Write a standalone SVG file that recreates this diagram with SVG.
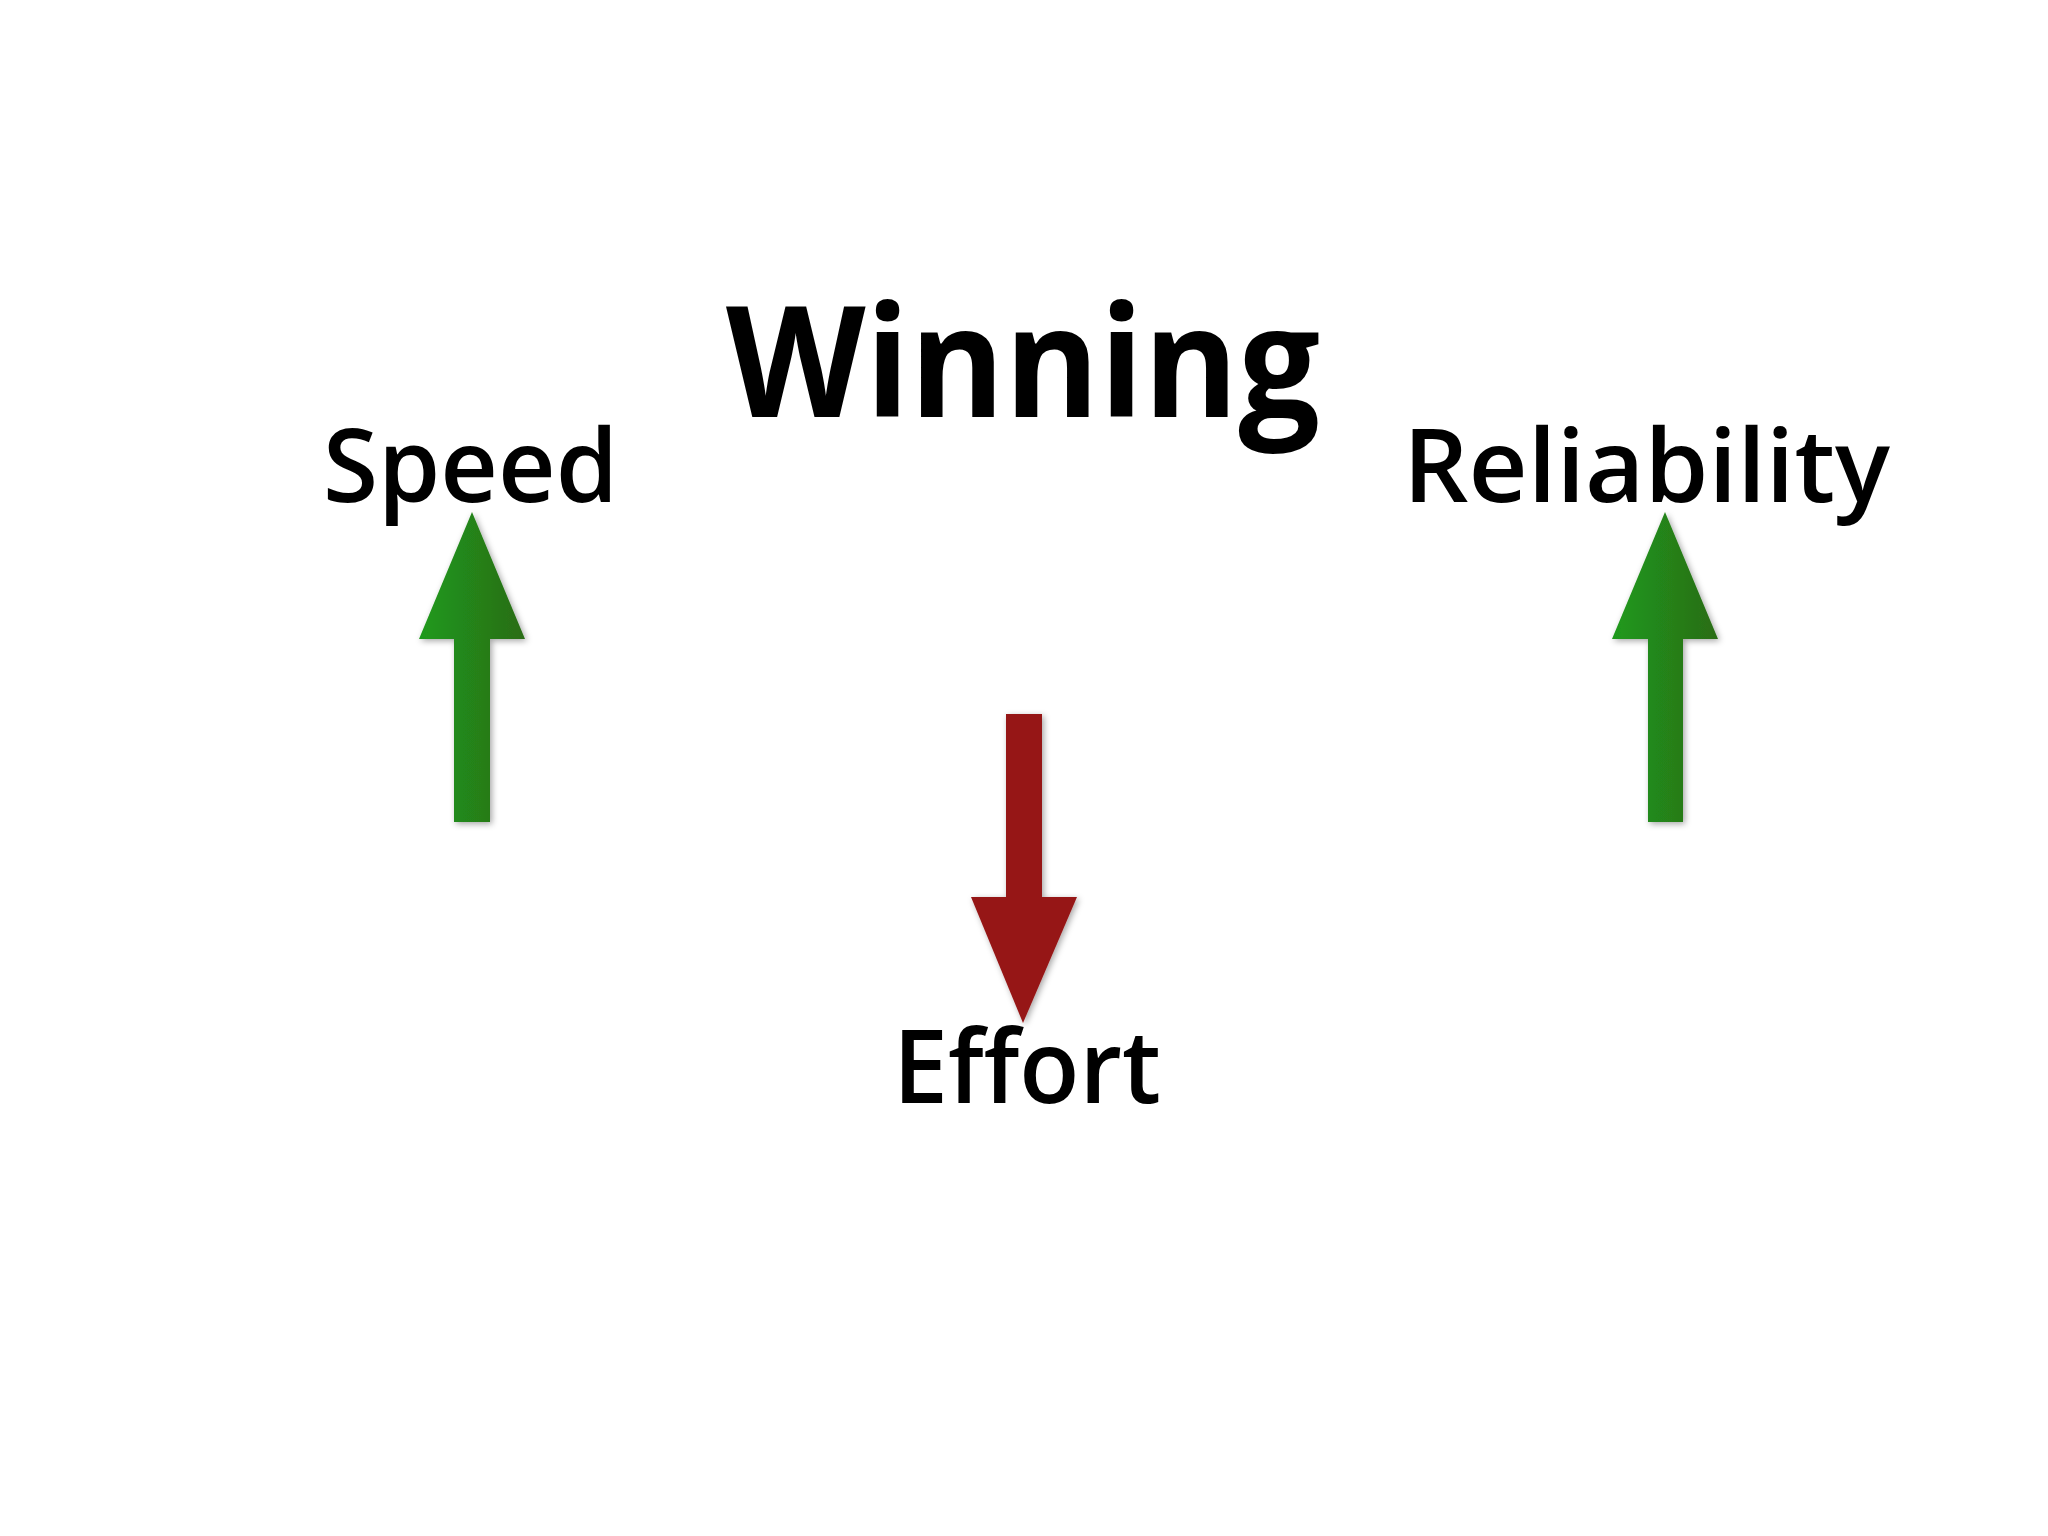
<svg xmlns="http://www.w3.org/2000/svg" width="2048" height="1536" viewBox="0 0 2048 1536">
<style>
.lbl{font-family:"Open Sans","Noto Sans","Liberation Sans",sans-serif;font-weight:600;fill:#000}
.big{font-size:101px}
.title{font-size:154px;font-weight:700}
</style>
<defs>
<linearGradient id="gr" x1="0" y1="0" x2="1" y2="0">
<stop offset="0" stop-color="#1f9a1c"/>
<stop offset="1" stop-color="#2a6c17"/>
</linearGradient>
<filter id="sh" x="-30%" y="-10%" width="160%" height="120%">
<feDropShadow dx="2" dy="2" stdDeviation="3" flood-color="#000" flood-opacity="0.35"/>
</filter>
</defs>
<rect width="2048" height="1536" fill="#fff"/>
<g id="winning"><text class="lbl title" x="726" y="417" textLength="594" lengthAdjust="spacingAndGlyphs">Winning</text></g>
<g id="speed"><text class="lbl big" x="323" y="502" textLength="295" lengthAdjust="spacingAndGlyphs">Speed</text></g>
<g id="reliability"><text class="lbl big" x="1403" y="502" textLength="487" lengthAdjust="spacingAndGlyphs">Reliability</text></g>
<g id="effort"><text class="lbl big" x="893" y="1103" textLength="268" lengthAdjust="spacingAndGlyphs">Effort</text></g>
<g id="connectors">
<polygon filter="url(#sh)" fill="url(#gr)" points="472,512 525,639 490,639 490,822 454,822 454,639 419,639"/>
<polygon filter="url(#sh)" fill="url(#gr)" points="1665,512 1718,639 1683,639 1683,822 1648,822 1648,639 1612,639"/>
<polygon filter="url(#sh)" fill="#961818" points="1006,714 1042,714 1042,897 1077,897 1023,1023 971,897 1006,897"/>
</g>
</svg>
